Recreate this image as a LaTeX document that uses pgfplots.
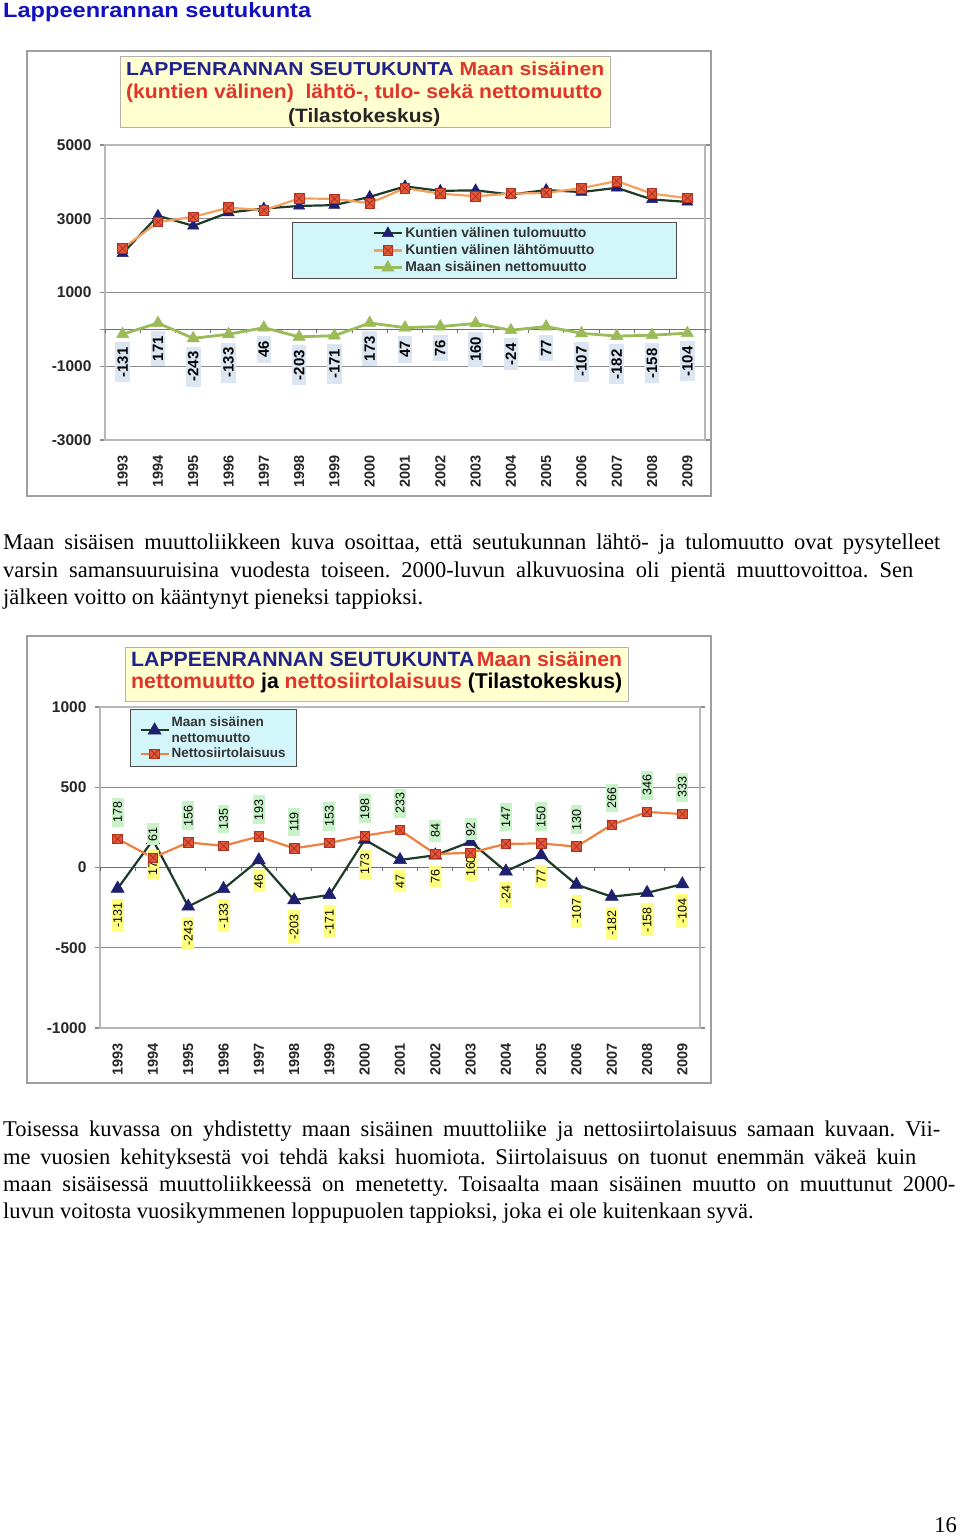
\documentclass[border=0pt]{standalone}
\usepackage{pgfplots}
\pgfplotsset{compat=1.18}
\usepackage{pgfplotstable}
\usepackage{graphicx}
\usepackage{fontspec}
\setmainfont{Liberation Serif}
\newfontfamily\arial{Liberation Sans}
\frenchspacing

\definecolor{hdrblue}{HTML}{1010C0}
\definecolor{navyt}{HTML}{20238C}
\definecolor{redt}{HTML}{E0352A}
\definecolor{ttlfill}{HTML}{FFFFD0}
\definecolor{legcyan}{HTML}{D2F6FA}
\definecolor{gridgray}{HTML}{8C8C8C}
\definecolor{framegray}{HTML}{B8B8B8}
\definecolor{zerogray}{HTML}{707070}
\definecolor{tuloline}{HTML}{1D3B26}
\definecolor{navymk}{HTML}{1F1F70}
\definecolor{lahtoline}{HTML}{F5A05A}
\definecolor{lahtomk}{HTML}{E05A3A}
\definecolor{lahtomkd}{HTML}{B03020}
\definecolor{netgreen}{HTML}{9BBB59}
\definecolor{siirtoline}{HTML}{F08040}
\definecolor{lblue}{HTML}{DCE6F2}
\definecolor{lyellow}{HTML}{FFFF80}
\definecolor{lgreen}{HTML}{C8F2C8}

\pgfdeclareplotmark{sqx}{%
  \pgfpathrectangle{\pgfpoint{-\pgfplotmarksize}{-\pgfplotmarksize}}{\pgfpoint{2\pgfplotmarksize}{2\pgfplotmarksize}}%
  \pgfusepathqfillstroke
  \pgfpathmoveto{\pgfpoint{-\pgfplotmarksize}{-\pgfplotmarksize}}%
  \pgfpathlineto{\pgfpoint{\pgfplotmarksize}{\pgfplotmarksize}}%
  \pgfpathmoveto{\pgfpoint{-\pgfplotmarksize}{\pgfplotmarksize}}%
  \pgfpathlineto{\pgfpoint{\pgfplotmarksize}{-\pgfplotmarksize}}%
  \pgfusepathqstroke}

\pgfplotstableread{
x tulo lahto net
0 2060 2191 -131
1 3080 2909 171
2 2807 3050 -243
3 3167 3300 -133
4 3276 3230 46
5 3347 3550 -203
6 3369 3540 -171
7 3593 3420 173
8 3877 3830 47
9 3756 3680 76
10 3770 3610 160
11 3656 3680 -24
12 3777 3700 77
13 3723 3830 -107
14 3838 4020 -182
15 3522 3680 -158
16 3456 3560 -104
}\dataA

\pgfplotstableread{
x net siirto
0 -131 178
1 171 61
2 -243 156
3 -133 135
4 46 193
5 -203 119
6 -171 153
7 173 198
8 47 233
9 76 84
10 160 92
11 -24 147
12 77 150
13 -107 130
14 -182 266
15 -158 346
16 -104 333
}\dataB

\newcommand\ticklab{\arial\bfseries\fontsize{15.5pt}{15.5pt}\selectfont}
\newcommand\yearlab{\arial\bfseries\fontsize{14.5pt}{14.5pt}\selectfont}
\newcommand\bodyfont{\fontsize{22.5pt}{27.5pt}\selectfont}

\pgfplotsset{
  common/.style={
    scale only axis, width=600pt,
    xmin=-0.5, xmax=16.5,
    xtick={0,...,16},
    xticklabels={1993,1994,1995,1996,1997,1998,1999,2000,2001,2002,2003,2004,2005,2006,2007,2008,2009},
    scaled y ticks=false,
    ymajorgrids, major grid style={draw=gridgray, line width=1.3pt},
    axis line style={draw=framegray, line width=1.2pt},
    xtick style={draw=none},
    ytick style={draw=gridgray, line width=1.3pt},
    tick align=outside, major tick length=5pt,
    x tick label style={font=\yearlab, text=black!85, yshift=-7pt, rotate=90, anchor=east},
    y tick label style={font=\ticklab, text=black!85, xshift=-5pt},
    extra y ticks={0}, extra y tick labels={},
    extra y tick style={grid=major, major grid style={draw=zerogray, line width=1.6pt}, tick style={draw=none}},
    clip=false,
  }
}

\begin{document}
\begin{tikzpicture}
\path[use as bounding box] (0,0) rectangle (960pt,1536pt);

% page header
\node[anchor=base west, inner sep=0] at (3pt,1518pt) {\color{hdrblue}\resizebox{308pt}{15pt}{\arial\bfseries Lappeenrannan seutukunta}};

% ================= chart 1 =================
\draw[draw=gray!75, line width=2pt] (27pt,1040pt) rectangle (711pt,1485pt);
\draw[draw=gray!60, fill=ttlfill, line width=1pt] (120pt,1408pt) rectangle (610pt,1479pt);
\node[anchor=base west, inner sep=0] at (126pt,1460pt) {\resizebox{478pt}{13.6pt}{\arial\bfseries\color{navyt}LAPPENRANNAN SEUTUKUNTA \color{redt}Maan sisäinen}};
\node[anchor=base west, inner sep=0] at (126pt,1437pt) {\resizebox{476pt}{14.5pt}{\arial\bfseries\color{redt}(kuntien välinen)\ \ lähtö-, tulo- sekä nettomuutto}};
\node[anchor=base west, inner sep=0] at (288pt,1413pt) {\resizebox{152pt}{14pt}{\arial\bfseries\color{black!85}(Tilastokeskus)}};

\begin{axis}[common,
  at={(105pt,1096pt)}, anchor=south west, height=295pt,
  ymin=-3000, ymax=5000,
  ytick={-3000,-1000,1000,3000,5000},
  yticklabels={-3000,-1000,1000,3000,5000},
  legend style={at={(0.3117,0.739)}, anchor=north west, fill=legcyan, draw=gray!60!black, line width=1pt,
    inner xsep=80pt, inner ysep=3pt, row sep=1.5pt,
    font=\arial\bfseries\fontsize{14pt}{14pt}\selectfont, text=black!80},
  legend cell align=left,
  legend image code/.code={\draw[mark repeat=2,mark phase=2] plot coordinates {(0pt,0pt) (14pt,0pt) (28pt,0pt)};},
]
\pgfplotsinvokeforeach{-0.5,0.5,...,16.5}{\draw[draw=zerogray, line width=1pt] (axis cs:#1,0) -- ([yshift=-4pt]axis cs:#1,0);}
\addplot[color=tuloline, line width=2.2pt, mark=triangle*, mark size=6.5pt,
  mark options={fill=navymk, draw=navymk, line width=0.5pt}] table[x=x, y=tulo]{\dataA};
\addlegendentry{Kuntien välinen tulomuutto}
\addplot[color=lahtoline, line width=2.2pt, mark=sqx, mark size=4.8pt,
  mark options={fill=lahtomk, draw=lahtomkd, line width=0.8pt}] table[x=x, y=lahto]{\dataA};
\addlegendentry{Kuntien välinen lähtömuutto}
\addplot[color=netgreen, line width=2.8pt, mark=triangle*, mark size=7pt,
  mark options={fill=netgreen, draw=netgreen, line width=0.5pt},
  point meta=explicit symbolic, nodes near coords={\pgfplotspointmeta},
  every node near coord/.append style={yshift=-8pt, rotate=90, anchor=east, fill=lblue,
    inner xsep=5pt, inner ysep=2pt, text=black,
    font=\arial\bfseries\fontsize{15pt}{15pt}\selectfont}]
  table[x=x, y=net, meta=net]{\dataA};
\addlegendentry{Maan sisäinen nettomuutto}
\end{axis}

% body text 1
\node[anchor=base west, inner sep=0] at (3pt,986pt) {\bodyfont\makebox[937pt][s]{Maan sisäisen muuttoliikkeen kuva osoittaa, että seutukunnan lähtö- ja tulomuutto ovat pysytelleet}};
\node[anchor=base west, inner sep=0] at (3pt,958.5pt) {\bodyfont\makebox[910pt][s]{varsin samansuuruisina vuodesta toiseen. 2000-luvun alkuvuosina oli pientä muuttovoittoa. Sen}};
\node[anchor=base west, inner sep=0] at (3pt,931pt) {\bodyfont jälkeen voitto on kääntynyt pieneksi tappioksi.};

% ================= chart 2 =================
\draw[draw=gray!75, line width=2pt] (27pt,453pt) rectangle (711pt,900pt);
\draw[draw=gray!60, fill=ttlfill, line width=1pt] (125pt,834pt) rectangle (628pt,888pt);
\node[anchor=base west, inner sep=0] at (131pt,869pt) {\resizebox{491pt}{15pt}{\arial\bfseries\color{navyt}LAPPEENRANNAN SEUTUKUNTA\hspace{0.12em}\color{redt}Maan sisäinen}};
\node[anchor=base west, inner sep=0] at (131pt,847pt) {\resizebox{491pt}{15.5pt}{\arial\bfseries\color{redt}nettomuutto\color{black}{} ja \color{redt}nettosiirtolaisuus\color{black}{} (Tilastokeskus)}};

\begin{axis}[common,
  at={(100pt,508pt)}, anchor=south west, height=321pt,
  ymin=-1000, ymax=1000,
  ytick={-1000,-500,500,1000},
  yticklabels={-1000,-500,500,1000},
  extra y tick labels={0},
  extra y tick style={grid=major, major grid style={draw=zerogray, line width=1.6pt}, tick style={draw=gridgray, line width=1.3pt}},
  legend style={at={(0.05,0.994)}, anchor=north west, fill=legcyan, draw=gray!60!black, line width=1pt,
    inner xsep=9pt, inner ysep=5pt, row sep=0pt,
    font=\arial\bfseries\fontsize{13.5pt}{16.5pt}\selectfont, text=black!80, cells={align=left}},
  legend cell align=left,
  legend image code/.code={\draw[mark repeat=2,mark phase=2] plot coordinates {(0pt,0pt) (14pt,0pt) (28pt,0pt)};},
]
\pgfplotsinvokeforeach{-0.5,0.5,...,16.5}{\draw[draw=zerogray, line width=1pt] (axis cs:#1,0) -- ([yshift=-4pt]axis cs:#1,0);}
\addplot[color=tuloline, line width=2.2pt, mark=triangle*, mark size=7.5pt,
  mark options={fill=navymk, draw=navymk, line width=0.5pt},
  point meta=explicit symbolic, nodes near coords={\pgfplotspointmeta},
  every node near coord/.append style={yshift=-10pt, rotate=90, anchor=east, fill=lyellow,
    inner xsep=4pt, inner ysep=1.5pt, text=black,
    font=\arial\fontsize{12.5pt}{12.5pt}\selectfont}]
  table[x=x, y=net, meta=net]{\dataB};
\addlegendentry{Maan sisäinen\\nettomuutto}
\addplot[color=siirtoline, line width=2.2pt, mark=sqx, mark size=4.8pt,
  mark options={fill=lahtomk, draw=lahtomkd, line width=0.8pt},
  point meta=explicit symbolic, nodes near coords={\pgfplotspointmeta},
  every node near coord/.append style={yshift=12pt, rotate=90, anchor=west, fill=lgreen,
    inner xsep=4pt, inner ysep=1.5pt, text=black,
    font=\arial\fontsize{12.5pt}{12.5pt}\selectfont}]
  table[x=x, y=siirto, meta=siirto]{\dataB};
\addlegendentry{Nettosiirtolaisuus}
\end{axis}

% body text 2
\node[anchor=base west, inner sep=0] at (3pt,399pt) {\bodyfont\makebox[937pt][s]{Toisessa kuvassa on yhdistetty maan sisäinen muuttoliike ja nettosiirtolaisuus samaan kuvaan. Vii-}};
\node[anchor=base west, inner sep=0] at (3pt,371.5pt) {\bodyfont\makebox[913pt][s]{me vuosien kehityksestä voi tehdä kaksi huomiota. Siirtolaisuus on tuonut enemmän väkeä kuin}};
\node[anchor=base west, inner sep=0] at (3pt,344pt) {\bodyfont\makebox[952pt][s]{maan sisäisessä muuttoliikkeessä on menetetty. Toisaalta maan sisäinen muutto on muuttunut 2000-}};
\node[anchor=base west, inner sep=0] at (3pt,317pt) {\bodyfont luvun voitosta vuosikymmenen loppupuolen tappioksi, joka ei ole kuitenkaan syvä.};

% page number
\node[anchor=base east, inner sep=0] at (957pt,3pt) {\bodyfont 16};
\end{tikzpicture}
\end{document}
